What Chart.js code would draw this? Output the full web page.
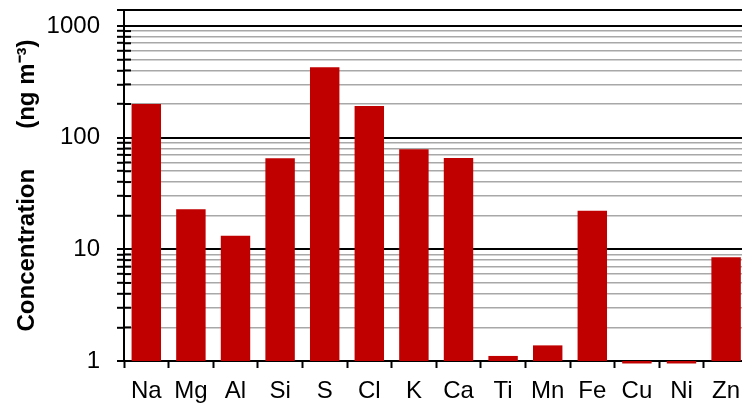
<!DOCTYPE html>
<html>
<head>
<meta charset="utf-8">
<script src="https://cdn.jsdelivr.net/npm/chart.js@4/dist/chart.umd.min.js"></script>
<style>
  html, body { margin: 0; padding: 0; background: #fff; overflow: hidden; }
  #wrap { width: 752px; height: 405px; }
</style>
</head>
<body>
<div id="wrap"><canvas id="c" width="752" height="405"></canvas></div>
<script>
// Element concentrations (ng m-3)
const elements = ['Na', 'Mg', 'Al', 'Si', 'S', 'Cl', 'K', 'Ca', 'Ti', 'Mn', 'Fe', 'Cu', 'Ni', 'Zn'];
const concentration = [200, 22.9, 13.2, 65.4, 427, 192, 78.7, 65.8, 1.11, 1.38, 22.1, 0.95, 0.95, 8.5];

// Log axis: labelled decades, unlabelled minor steps, and the top of the range
const decadeTicks = [1, 10, 100, 1000];
const minorSteps = [2, 3, 4, 5, 6, 7, 8, 9];
const yMin = 1;
const yMax = 1390;

const yTickValues = [];
decadeTicks.forEach(d => {
  yTickValues.push(d);
  if (d < 1000) minorSteps.forEach(m => yTickValues.push(d * m));
});
yTickValues.push(yMax);

const isMajor = v => decadeTicks.includes(v) || v === yMax;

const labelFont = { family: '"Liberation Sans", Arial, sans-serif', size: 24 };

// Short tick marks that poke into the plot at the minor steps
const innerTicks = {
  id: 'innerTicks',
  beforeDatasetsDraw(chart) {
    const { ctx, chartArea, scales } = chart;
    const y = scales.y;
    ctx.save();
    ctx.strokeStyle = '#000';
    ctx.lineWidth = 2;
    y.ticks.forEach(t => {
      if (isMajor(t.value)) return;
      const py = y.getPixelForValue(t.value);
      ctx.beginPath();
      ctx.moveTo(chartArea.left, py);
      ctx.lineTo(chartArea.left + 7, py);
      ctx.stroke();
    });
    ctx.restore();
  }
};

new Chart(document.getElementById('c'), {
  type: 'bar',
  data: {
    labels: elements,
    datasets: [{
      data: concentration,
      backgroundColor: '#C00000',
      borderWidth: 0,
      clip: false,
      categoryPercentage: 1,
      barPercentage: 0.66
    }]
  },
  options: {
    responsive: false,
    animation: false,
    layout: { padding: { top: 10, right: 3.6, left: 0, bottom: 0 } },
    plugins: { legend: { display: false }, tooltip: { enabled: false } },
    scales: {
      x: {
        grid: {
          offset: true,
          drawOnChartArea: false,
          tickLength: 7,
          tickColor: '#000',
          tickWidth: 2
        },
        border: { color: '#000', width: 2 },
        ticks: {
          color: '#000',
          padding: 9,
          maxRotation: 0,
          autoSkip: false,
          font: labelFont
        },
        afterFit(scale) {
          scale.height = 44;
          scale.paddingLeft = 0;
          scale.paddingRight = 0;
        }
      },
      y: {
        type: 'logarithmic',
        min: yMin,
        max: yMax,
        afterBuildTicks(scale) {
          scale.ticks = yTickValues.map(v => ({ value: v }));
        },
        afterFit(scale) {
          scale.width = 124;
          scale.paddingTop = 0;
          scale.paddingBottom = 0;
        },
        grid: {
          color: ctx => (ctx.tick && isMajor(ctx.tick.value)) ? '#000' : '#a8a8a8',
          lineWidth: ctx => (ctx.tick && isMajor(ctx.tick.value)) ? 2 : 1.6,
          tickLength: 7,
          tickColor: '#000',
          tickWidth: 2
        },
        border: { color: '#000', width: 2 },
        ticks: {
          autoSkip: false,
          color: '#000',
          padding: 17,
          font: labelFont,
          callback: v => decadeTicks.includes(v) ? String(v) : ''
        },
        title: {
          display: true,
          text: 'Concentration      (ng m\u207B\u00B3)',
          color: '#000',
          padding: { top: 13, bottom: 0 },
          font: { family: '"Liberation Sans", Arial, sans-serif', size: 24, weight: 'bold' }
        }
      }
    }
  },
  plugins: [innerTicks]
});
</script>
</body>
</html>
